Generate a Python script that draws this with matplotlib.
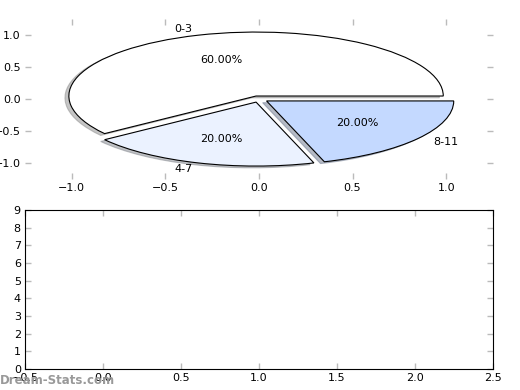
import numpy as np
from matplotlib import pyplot as plt

# pie data
labels = ["0-3", "4-7", "8-11"]
shares = [60, 20, 20]
colors = ["#ffffff", "#ebf2ff", "#c4d9ff"]
explode = [0.05, 0.05, 0.05]

# empty lower panel
x_ticks = [-0.5, 0.0, 0.5, 1.0, 1.5, 2.0, 2.5]
y_ticks = [0, 1, 2, 3, 4, 5, 6, 7, 8, 9]
pie_ticks_x = [-1.0, -0.5, 0.0, 0.5, 1.0]
pie_ticks_y = [-1.0, -0.5, 0.0, 0.5, 1.0]

plt.rcParams['font.size'] = 8
plt.rcParams['font.family'] = ['DejaVu Sans']

fig = plt.figure(figsize=(5.2, 3.9), dpi=100)
ax1 = fig.add_axes([0.048, 0.541, 0.90, 0.410])
ax2 = fig.add_axes([0.048, 0.054, 0.90, 0.408])

ax1.pie(shares, labels=labels, colors=colors, explode=explode,
        autopct='%1.2f%%', startangle=0,
        shadow=dict(ox=-0.015, oy=-0.02, shade=0.45),
        wedgeprops=dict(edgecolor='black', linewidth=0.8))
ax1.set_aspect('auto')
ax1.set_frame_on(True)
for s in ax1.spines.values():
    s.set_visible(False)
ax1.set_xlim(-1.25, 1.25)
ax1.set_ylim(-1.25, 1.25)
ax1.set_xticks(pie_ticks_x)
ax1.set_yticks(pie_ticks_y)

ax2.set_xlim(-0.5, 2.5)
ax2.set_ylim(0, 9)
ax2.set_xticks(x_ticks)
ax2.set_yticks(y_ticks)

for ax in (ax1, ax2):
    ax.tick_params(direction='in', length=4, width=1, color='#bbbbbb',
                   top=True, right=True, labelsize=8, pad=3)

fig.text(0.0, 0.025, "Dream-Stats.com", color='#999999', fontsize=8.5,
         fontweight='bold', ha='left', va='center')

fig.savefig("out.png", dpi=100)
